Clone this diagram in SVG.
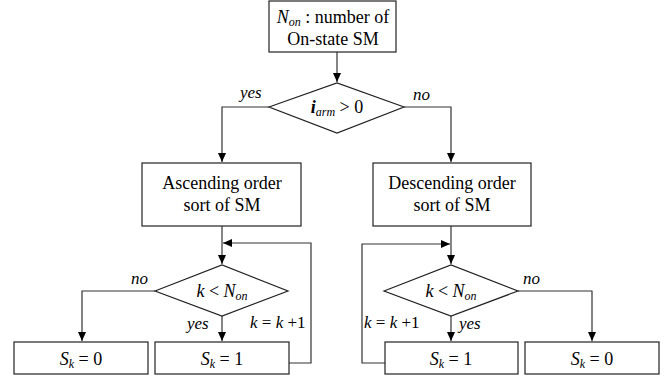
<svg xmlns="http://www.w3.org/2000/svg" width="670" height="387" viewBox="0 0 670 387" font-family="Liberation Serif, DejaVu Serif, serif">
<defs>
<marker id="ah" markerWidth="10" markerHeight="8" refX="9" refY="4" orient="auto" markerUnits="userSpaceOnUse">
<path d="M0,0 L9,4 L0,8 Z" fill="#000"/>
</marker>
<style>
.b{fill:#fff;stroke:#222;stroke-width:1.2}
.c{fill:none;stroke:#333;stroke-width:1.2}
.t{font-size:18px;fill:#000;text-anchor:middle}
.i{font-style:italic}
.l{font-size:17px;font-style:italic;fill:#000}
.s{font-size:12px;font-style:italic}
</style>
</defs>
<rect width="670" height="387" fill="#fff"/>
<g id="connectors">
<path class="c" d="M337,52 V82" marker-end="url(#ah)"/>
<path class="c" d="M269,107 H222 V162" marker-end="url(#ah)"/>
<path class="c" d="M404,107 H451 V162" marker-end="url(#ah)"/>
<path class="c" d="M222,226 V264" marker-end="url(#ah)"/>
<path class="c" d="M289,363 H311 V243 H223" marker-end="url(#ah)"/>
<path class="c" d="M155,291 H82 V341" marker-end="url(#ah)"/>
<path class="c" d="M222,316 V341" marker-end="url(#ah)"/>
<path class="c" d="M451,226 V264" marker-end="url(#ah)"/>
<path class="c" d="M385,363 H362 V244 H450" marker-end="url(#ah)"/>
<path class="c" d="M518,291 H592 V341" marker-end="url(#ah)"/>
<path class="c" d="M451,316 V341" marker-end="url(#ah)"/>
<text class="l" x="240" y="98">yes</text>
<text class="l" x="413" y="100">no</text>
<text class="l" x="131" y="284">no</text>
<text class="l" x="187" y="329">yes</text>
<text class="l" x="250" y="328">k<tspan font-style="normal"> = </tspan>k<tspan font-style="normal"> +1</tspan></text>
<text class="l" x="523" y="284">no</text>
<text class="l" x="459" y="329">yes</text>
<text class="l" x="364" y="328">k<tspan font-style="normal"> = </tspan>k<tspan font-style="normal"> +1</tspan></text>
</g>
<g id="start">
<rect class="b" x="269" y="1" width="127" height="51"/>
<text class="t" x="333" y="23"><tspan class="i">N</tspan><tspan class="s" dy="3">on</tspan><tspan dy="-3"> : number of</tspan></text>
<text class="t" x="333" y="45">On-state SM</text>
</g>
<g id="decision1">
<polygon class="b" points="269,107 337,83 404,107 337,133"/>
<text class="t" x="337" y="113"><tspan class="i" font-weight="bold">i</tspan><tspan class="s" dy="3">arm</tspan><tspan dy="-3"> &gt; 0</tspan></text>
</g>
<g id="ascending">
<rect class="b" x="142" y="163" width="159" height="63"/>
<text class="t" x="222" y="189">Ascending order</text>
<text class="t" x="222" y="211">sort of SM</text>
</g>
<g id="descending">
<rect class="b" x="373" y="163" width="158" height="63"/>
<text class="t" x="452" y="189">Descending order</text>
<text class="t" x="452" y="211">sort of SM</text>
</g>
<g id="decision2">
<polygon class="b" points="155,291 222,265 288,291 222,316"/>
<text class="t" x="222" y="297"><tspan class="i">k</tspan><tspan> &lt; </tspan><tspan class="i">N</tspan><tspan class="s" dy="3">on</tspan></text>
</g>
<g id="decision3">
<polygon class="b" points="384,291 451,265 518,291 451,316"/>
<text class="t" x="451" y="297"><tspan class="i">k</tspan><tspan> &lt; </tspan><tspan class="i">N</tspan><tspan class="s" dy="3">on</tspan></text>
</g>
<g id="sk0left">
<rect class="b" x="14" y="342" width="134" height="32"/>
<text class="t" x="81" y="365"><tspan class="i">S</tspan><tspan class="s" dy="3">k</tspan><tspan dy="-3"> = 0</tspan></text>
</g>
<g id="sk1left">
<rect class="b" x="155" y="342" width="134" height="32"/>
<text class="t" x="222" y="365"><tspan class="i">S</tspan><tspan class="s" dy="3">k</tspan><tspan dy="-3"> = 1</tspan></text>
</g>
<g id="sk1right">
<rect class="b" x="385" y="342" width="133" height="32"/>
<text class="t" x="451" y="365"><tspan class="i">S</tspan><tspan class="s" dy="3">k</tspan><tspan dy="-3"> = 1</tspan></text>
</g>
<g id="sk0right">
<rect class="b" x="525" y="342" width="134" height="32"/>
<text class="t" x="592" y="365"><tspan class="i">S</tspan><tspan class="s" dy="3">k</tspan><tspan dy="-3"> = 0</tspan></text>
</g>
</svg>
